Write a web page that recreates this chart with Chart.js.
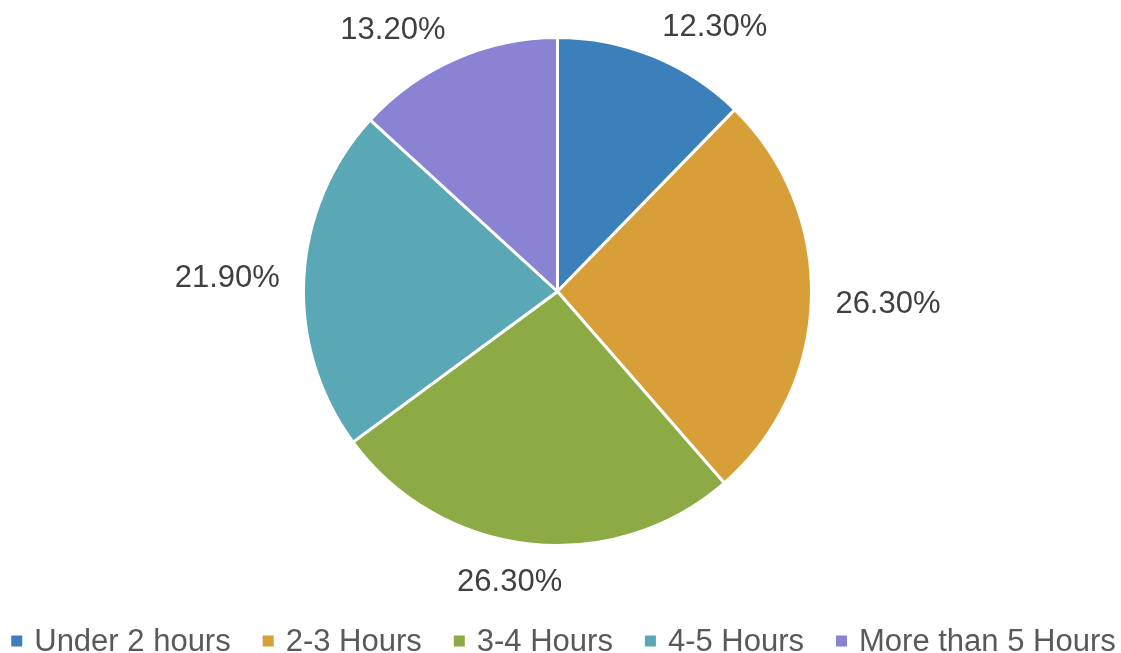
<!DOCTYPE html>
<html>
<head>
<meta charset="utf-8">
<script src="https://cdn.jsdelivr.net/npm/chart.js@4"></script>
<style>
  html, body { margin: 0; padding: 0; background: #fff; }
  #wrap { width: 1121px; height: 653px; }
</style>
</head>
<body>
<div id="wrap"><canvas id="pie"></canvas></div>
<script>
const labels = ['Under 2 hours', '2-3 Hours', '3-4 Hours', '4-5 Hours', 'More than 5 Hours'];
const shares = [12.3, 26.3, 26.3, 21.9, 13.2];
const colors = ['#3b80ba', '#d89f38', '#8cab44', '#5aa8b5', '#8a82d3'];

const fontFamily = '"Liberation Sans", Arial, sans-serif';

function clamp(v) { return Math.max(-1, Math.min(1, v)); }

// percent labels just outside the pie
const outsideLabels = {
  id: 'outsideLabels',
  afterDatasetsDraw(chart) {
    const ctx = chart.ctx;
    const arcs = chart.getDatasetMeta(0).data;
    ctx.save();
    ctx.font = '31px ' + fontFamily;
    ctx.fillStyle = '#404040';
    ctx.textAlign = 'center';
    ctx.textBaseline = 'middle';
    arcs.forEach((arc, i) => {
      const mid = (arc.startAngle + arc.endAngle) / 2;
      const ux = Math.cos(mid), uy = Math.sin(mid);
      const text = shares[i].toFixed(2) + '%';
      const w = ctx.measureText(text).width;
      const h = 22;
      const r = arc.outerRadius + 24;
      const x = arc.x + r * ux + w / 2 * clamp(3 * ux);
      const y = arc.y + r * uy + h / 2 * clamp(3 * uy) + 4;
      ctx.fillText(text, x, y);
    });
    ctx.restore();
  }
};

// legend row at the bottom, Excel-like spacing
const bottomLegend = {
  id: 'bottomLegend',
  afterDraw(chart) {
    const ctx = chart.ctx;
    const box = 11, gap = 12, spacing = 32, yc = 641;
    ctx.save();
    ctx.font = '31px ' + fontFamily;
    ctx.textBaseline = 'middle';
    ctx.textAlign = 'left';
    const widths = labels.map(t => ctx.measureText(t).width);
    let total = widths.reduce((a, b) => a + b, 0) + labels.length * (box + gap) + (labels.length - 1) * spacing;
    let x = (chart.width - total) / 2 + 3;
    labels.forEach((t, i) => {
      ctx.fillStyle = colors[i];
      ctx.fillRect(x, yc - box / 2, box, box);
      ctx.fillStyle = '#595959';
      ctx.fillText(t, x + box + gap, yc + 1);
      x += box + gap + widths[i] + spacing;
    });
    ctx.restore();
  }
};

new Chart(document.getElementById('pie'), {
  type: 'pie',
  data: {
    labels: labels,
    datasets: [{
      data: shares,
      backgroundColor: colors,
      borderColor: '#ffffff',
      borderWidth: 3
    }]
  },
  options: {
    responsive: true,
    maintainAspectRatio: false,
    animation: false,
    layout: { padding: { top: 36, bottom: 106, left: 0, right: 6 } },
    plugins: {
      legend: { display: false },
      tooltip: { enabled: false }
    }
  },
  plugins: [outsideLabels, bottomLegend]
});
</script>
</body>
</html>
